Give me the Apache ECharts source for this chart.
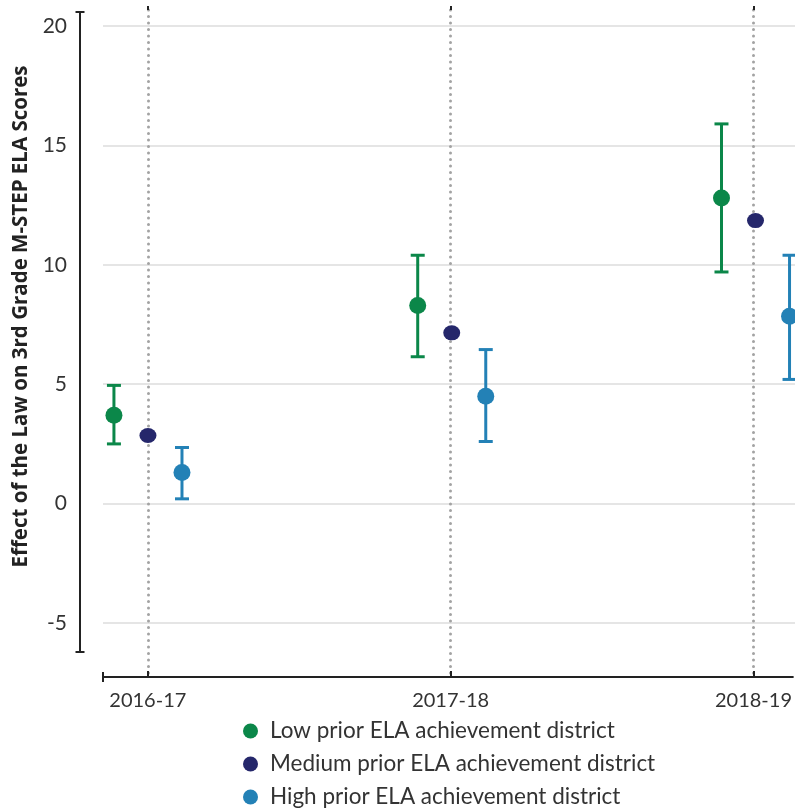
<!DOCTYPE html>
<html><head><meta charset="utf-8">
<script src="https://cdn.jsdelivr.net/npm/echarts@6/dist/echarts.min.js"></script>
<style>html,body{margin:0;padding:0;background:#fff}#c{width:795px;height:811px}</style>
</head><body><div id="c"></div>
<script>
const categories = ['2016-17', '2017-18', '2018-19'];
const seriesNames = ['Low prior ELA achievement district', 'Medium prior ELA achievement district', 'High prior ELA achievement district'];
const lowVal = [3.7, 8.3, 12.8];
const lowLo = [2.5, 6.15, 9.7];
const lowHi = [4.95, 10.4, 15.9];
const medVal = [2.85, 7.15, 11.85];
const highVal = [1.3, 4.5, 7.85];
const highLo = [0.2, 2.6, 5.2];
const highHi = [2.35, 6.45, 10.4];
const yTicks = [-5, 0, 5, 10, 15, 20];
const yTitle = 'Effect of the Law on 3rd Grade M-STEP ELA Scores';

const colors = ['#0b8749', '#25276b', '#2381b6'];
const shift = [-0.112, 0, 0.112];
const FONT = 'Lato';

function pts(vals, k) { return vals.map((v, i) => [i + shift[k], v]); }
function bars(lo, hi, k) { return lo.map((l, i) => [i + shift[k], l, hi[i]]); }

function errRender(color) {
  return function (params, api) {
    const x = api.value(0);
    const a = api.coord([x, api.value(1)]);
    const b = api.coord([x, api.value(2)]);
    const hw = 7;
    const st = { stroke: color, lineWidth: 3 };
    return { type: 'group', children: [
      { type: 'line', shape: { x1: a[0], y1: a[1], x2: b[0], y2: b[1] }, style: st },
      { type: 'line', shape: { x1: a[0] - hw, y1: a[1], x2: a[0] + hw, y2: a[1] }, style: st },
      { type: 'line', shape: { x1: b[0] - hw, y1: b[1], x2: b[0] + hw, y2: b[1] }, style: st }
    ]};
  };
}

const xMin = -0.148, xMax = 2.13;
const chart = echarts.init(document.getElementById('c'), null, { renderer: 'canvas' });
chart.setOption({
  animation: false,
  textStyle: { fontFamily: FONT },
  grid: [
    { left: 103, right: 0, top: 12, height: 640 },
    { left: 103, right: 0, top: 10, height: 667 }
  ],
  xAxis: [
    { gridIndex: 0, type: 'value', min: xMin, max: xMax, show: false },
    { gridIndex: 1, type: 'value', min: xMin, max: xMax,
      axisLine: { show: true, onZero: false, lineStyle: { color: '#222', width: 2 }, symbol: ['rect', 'none'], symbolSize: [10, 2] },
      axisTick: { show: true, inside: true, length: 6, customValues: [0, 1, 2], lineStyle: { color: '#222', width: 2 } },
      axisLabel: { customValues: [0, 1, 2], formatter: v => categories[Math.round(v)], fontSize: 20, color: '#333', margin: 14, fontFamily: FONT },
      splitLine: { show: true, lineStyle: { color: '#a3a3a3', width: 3, type: [0.1, 6.4], cap: 'round' } }
    },
    { gridIndex: 1, type: 'value', min: xMin, max: xMax,
      axisLine: { show: false, onZero: false },
      axisTick: { show: true, inside: false, length: 4, customValues: [0, 1, 2], lineStyle: { color: '#222', width: 2 } },
      axisLabel: { show: false }, splitLine: { show: false }
    }
  ],
  yAxis: [
    { gridIndex: 0, type: 'value', min: -6.214, max: 20.586, offset: 23,
      axisLine: { show: true, onZero: false, lineStyle: { color: '#222', width: 2 }, symbol: ['rect', 'rect'], symbolSize: [9, 2] },
      axisTick: { show: false, customValues: yTicks },
      axisLabel: { customValues: yTicks, fontSize: 21, color: '#333', margin: 13, fontFamily: FONT },
      splitLine: { show: true, lineStyle: { color: '#dcdcdc', width: 1.5 } }
    },
    { gridIndex: 1, type: 'value', show: false, min: 0, max: 1, axisLine: { onZero: false } }
  ],
  legend: {
    orient: 'vertical', left: 243, top: 719, padding: 0, itemWidth: 15, itemHeight: 15, itemGap: 9,
    icon: 'circle', data: seriesNames,
    textStyle: { fontSize: 22.5, lineHeight: 24, color: '#333', fontFamily: FONT, padding: [0, 0, 0, 7] }
  },
  graphic: [{
    type: 'text', rotation: Math.PI / 2,
    x: 21, y: 316.5,
    style: { text: yTitle, font: 'bold 20.5px "Open Sans"', fill: '#222', align: 'center', verticalAlign: 'middle' }
  }],
  series: [
    { type: 'custom', name: 'lowErr', xAxisIndex: 0, yAxisIndex: 0, renderItem: errRender(colors[0]), data: bars(lowLo, lowHi, 0), z: 2 },
    { type: 'custom', name: 'highErr', xAxisIndex: 0, yAxisIndex: 0, renderItem: errRender(colors[2]), data: bars(highLo, highHi, 2), z: 2 },
    { type: 'scatter', name: seriesNames[0], xAxisIndex: 0, yAxisIndex: 0, data: pts(lowVal, 0), symbolSize: 17, itemStyle: { color: colors[0], opacity: 1 }, z: 3 },
    { type: 'scatter', name: seriesNames[1], xAxisIndex: 0, yAxisIndex: 0, data: pts(medVal, 1), symbolSize: [17, 15], itemStyle: { color: colors[1], opacity: 1 }, z: 3 },
    { type: 'scatter', name: seriesNames[2], xAxisIndex: 0, yAxisIndex: 0, data: pts(highVal, 2), symbolSize: 17, itemStyle: { color: colors[2], opacity: 1 }, z: 3 }
  ]
});
</script></body></html>
